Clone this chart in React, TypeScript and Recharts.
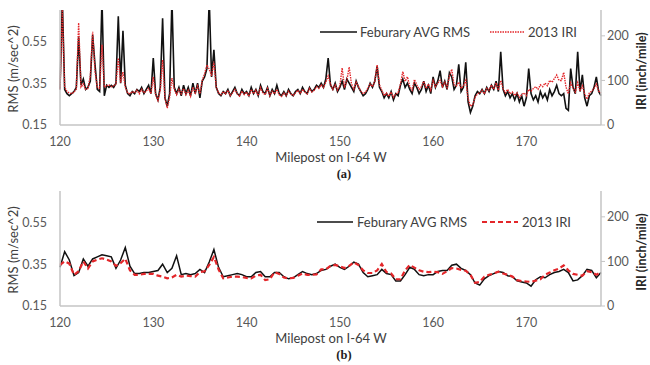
import { LineChart, Line, XAxis, YAxis } from 'recharts';

// (a) raw profile, one reading every 0.25 mile from 120 to 178
const topRms = [
  0.32, 0.75, 0.32, 0.30, 0.29, 0.30, 0.31, 0.33, 0.57, 0.34, 0.37, 0.32,
  0.33, 0.36, 0.58, 0.44, 0.32, 0.31, 0.75, 0.29, 0.34, 0.33, 0.34, 0.33,
  0.35, 0.67, 0.35, 0.60, 0.34, 0.30, 0.29, 0.31, 0.30, 0.32, 0.31, 0.33,
  0.30, 0.32, 0.34, 0.30, 0.47, 0.30, 0.27, 0.33, 0.66, 0.28, 0.24, 0.30,
  0.75, 0.33, 0.30, 0.33, 0.29, 0.34, 0.30, 0.33, 0.29, 0.35, 0.30, 0.35,
  0.28, 0.36, 0.38, 0.42, 0.75, 0.38, 0.51, 0.33, 0.30, 0.29, 0.31, 0.30,
  0.32, 0.29, 0.31, 0.33, 0.30, 0.29, 0.32, 0.30, 0.31, 0.29, 0.33, 0.30,
  0.32, 0.29, 0.34, 0.31, 0.30, 0.33, 0.29, 0.32, 0.30, 0.34, 0.30, 0.29,
  0.31, 0.29, 0.32, 0.30, 0.29, 0.31, 0.32, 0.30, 0.33, 0.31, 0.30, 0.33,
  0.31, 0.32, 0.34, 0.33, 0.35, 0.33, 0.37, 0.47, 0.34, 0.32, 0.35, 0.31,
  0.33, 0.36, 0.32, 0.37, 0.35, 0.33, 0.31, 0.36, 0.33, 0.31, 0.29, 0.30,
  0.32, 0.35, 0.33, 0.36, 0.43, 0.33, 0.31, 0.28, 0.30, 0.28, 0.31, 0.27,
  0.30, 0.29, 0.34, 0.37, 0.33, 0.35, 0.32, 0.30, 0.35, 0.33, 0.30, 0.32,
  0.36, 0.31, 0.34, 0.30, 0.38, 0.33, 0.36, 0.41, 0.33, 0.36, 0.32, 0.40,
  0.38, 0.32, 0.34, 0.44, 0.31, 0.33, 0.45, 0.26, 0.21, 0.24, 0.29, 0.31,
  0.30, 0.32, 0.30, 0.33, 0.31, 0.34, 0.32, 0.36, 0.31, 0.50, 0.32, 0.29,
  0.31, 0.28, 0.30, 0.27, 0.30, 0.26, 0.29, 0.24, 0.28, 0.42, 0.30, 0.27,
  0.29, 0.26, 0.31, 0.28, 0.30, 0.27, 0.32, 0.29, 0.31, 0.34, 0.30, 0.29,
  0.30, 0.23, 0.22, 0.42, 0.33, 0.30, 0.50, 0.31, 0.39, 0.28, 0.24, 0.29,
  0.30, 0.33, 0.38, 0.31, 0.29,
];

const topIri = [
  80, 258, 85, 75, 72, 70, 74, 80, 229, 85, 92, 80,
  82, 110, 209, 120, 85, 82, 180, 85, 88, 90, 86, 88,
  92, 150, 95, 119, 85, 72, 70, 75, 72, 78, 70, 80,
  72, 76, 82, 70, 108, 68, 55, 78, 146, 60, 38, 62,
  105, 80, 68, 80, 70, 82, 68, 78, 64, 85, 72, 88,
  70, 100, 115, 135, 125, 110, 142, 85, 72, 68, 75, 70,
  78, 66, 72, 80, 70, 65, 76, 68, 74, 64, 80, 70,
  78, 66, 84, 72, 68, 82, 66, 76, 70, 80, 68, 64,
  72, 66, 76, 70, 66, 72, 78, 70, 80, 74, 70, 82,
  74, 78, 86, 82, 90, 84, 96, 110, 92, 80, 90, 78,
  88, 128, 84, 100, 130, 92, 80, 96, 86, 76, 70, 74,
  82, 92, 86, 98, 135, 90, 78, 66, 72, 64, 74, 62,
  70, 72, 92, 120, 98, 108, 86, 78, 102, 90, 80, 86,
  98, 82, 92, 78, 100, 86, 94, 100, 86, 96, 84, 110,
  125, 90, 88, 96, 82, 88, 100, 60, 42, 45, 62, 70,
  72, 78, 70, 82, 78, 90, 80, 95, 78, 100, 82, 72,
  80, 70, 74, 66, 72, 62, 68, 72, 66, 80, 76, 82,
  86, 80, 90, 86, 94, 88, 100, 96, 104, 112, 100, 100,
  118, 85, 70, 95, 82, 74, 95, 76, 88, 70, 58, 72,
  76, 82, 92, 76, 72,
];

// (b) averaged profile, one reading every 0.5 mile from 120 to 178
const bottomRms = [
  0.335, 0.41, 0.37, 0.295, 0.31, 0.375, 0.34, 0.375, 0.385, 0.395,
  0.39, 0.385, 0.33, 0.37, 0.43, 0.34, 0.305, 0.305, 0.31, 0.31,
  0.315, 0.32, 0.35, 0.31, 0.33, 0.39, 0.30, 0.305, 0.30, 0.305,
  0.325, 0.31, 0.36, 0.42, 0.335, 0.29, 0.295, 0.30, 0.305, 0.30,
  0.29, 0.29, 0.31, 0.315, 0.29, 0.29, 0.31, 0.31, 0.29, 0.28,
  0.285, 0.30, 0.315, 0.305, 0.30, 0.305, 0.32, 0.325, 0.34, 0.35,
  0.335, 0.325, 0.34, 0.36, 0.35, 0.31, 0.29, 0.295, 0.30, 0.325,
  0.305, 0.30, 0.27, 0.27, 0.30, 0.335, 0.325, 0.30, 0.295, 0.30,
  0.30, 0.315, 0.32, 0.32, 0.345, 0.35, 0.33, 0.32, 0.30, 0.26,
  0.25, 0.28, 0.295, 0.305, 0.315, 0.31, 0.295, 0.29, 0.27, 0.265,
  0.26, 0.245, 0.275, 0.29, 0.285, 0.30, 0.31, 0.315, 0.325, 0.31,
  0.27, 0.275, 0.295, 0.325, 0.32, 0.285, 0.31,
];

const bottomIri = [
  92, 100, 95, 70, 78, 100, 84, 100, 104, 107,
  104, 100, 90, 96, 106, 80, 70, 70, 72, 72,
  72, 68, 66, 62, 64, 70, 66, 68, 67, 66,
  76, 78, 92, 110, 82, 62, 64, 66, 66, 65,
  63, 62, 68, 70, 58, 60, 76, 72, 64, 62,
  63, 68, 73, 70, 70, 71, 82, 82, 90, 92,
  89, 85, 90, 98, 92, 80, 74, 74, 80, 94,
  76, 73, 60, 60, 80, 92, 86, 80, 77, 76,
  77, 76, 72, 78, 85, 84, 81, 79, 70, 52,
  54, 66, 70, 73, 77, 73, 70, 66, 58, 56,
  55, 54, 57, 60, 70, 75, 80, 84, 91, 80,
  72, 70, 68, 78, 76, 70, 76,
];

const mileTicks = [120, 130, 140, 150, 160, 170];
const rmsTicks = [0.15, 0.35, 0.55];
const iriTicks = [0, 100, 200];

const FONT = 'Lato, "Open Sans", sans-serif';
const RED = '#e3262a';
const AXIS = '#c4c4c4';

function rows(rms: number[], iri: number[], step: number) {
  return rms.map((v, i) => ({ mile: 120 + i * step, rms: v, iri: iri[i] }));
}

function Text({ x, y, children, rotate, style }: any) {
  return (
    <div
      style={{
        position: 'absolute',
        left: x,
        top: y,
        transform: `translate(-50%, -50%)${rotate ? ' rotate(-90deg)' : ''}`,
        whiteSpace: 'nowrap',
        ...style,
      }}
    >
      {children}
    </div>
  );
}

function LegendKey({ x, y, w, dash, color, width }: any) {
  return (
    <svg style={{ position: 'absolute', left: x, top: y - 3 }} width={w} height={6}>
      <line x1={0} y1={3} x2={w} y2={3} stroke={color} strokeWidth={width} strokeDasharray={dash} />
    </svg>
  );
}

function Panel({ top, data, dash, redWidth, blackWidth, legendY, legend, tag }: any) {
  const tickStyle = { fill: '#595959', fontSize: 12.5, fontFamily: FONT };
  return (
    <div style={{ position: 'absolute', left: 0, top, width: 650, height: 180 }}>
      <LineChart width={650} height={155} data={data} margin={{ top: 10, right: 9, bottom: 0, left: 10 }}>
        <XAxis
          dataKey="mile"
          type="number"
          domain={[120, 178]}
          ticks={mileTicks}
          interval={0}
          height={30}
          tickLine={false}
          tickSize={6}
          tickMargin={6}
          axisLine={{ stroke: AXIS, strokeWidth: 1.5 }}
          tick={tickStyle}
        />
        <YAxis
          yAxisId="rms"
          domain={[0.15, 0.7]}
          ticks={rmsTicks}
          interval={0}
          allowDataOverflow
          width={50}
          tickLine={false}
          tickSize={6}
          tickMargin={7}
          tickFormatter={(v: number) => v.toFixed(2)}
          axisLine={{ stroke: AXIS, strokeWidth: 1.5 }}
          tick={tickStyle}
        />
        <YAxis
          yAxisId="iri"
          orientation="right"
          domain={[0, 258]}
          ticks={iriTicks}
          interval={0}
          allowDataOverflow
          width={40}
          tickSize={4}
          tickMargin={2}
          tickLine={{ stroke: AXIS }}
          axisLine={{ stroke: AXIS, strokeWidth: 1.5 }}
          tick={tickStyle}
        />
        <Line yAxisId="rms" dataKey="rms" type="linear" stroke="#111" strokeWidth={blackWidth} dot={false} isAnimationActive={false} />
        <Line yAxisId="iri" dataKey="iri" type="linear" stroke={RED} strokeWidth={redWidth} strokeDasharray={dash} dot={false} isAnimationActive={false} />
      </LineChart>

      <LegendKey x={legend[0]} y={legendY} w={legend[1]} color="#111" width={1.5} />
      <Text x={legend[2]} y={legendY} style={{ transform: 'translate(0, -50%)', fontSize: 13, color: '#404040', fontFamily: FONT }}>
        Feburary AVG RMS
      </Text>
      <LegendKey x={legend[3]} y={legendY} w={legend[4]} dash={dash} color={RED} width={redWidth} />
      <Text x={legend[5]} y={legendY} style={{ transform: 'translate(0, -50%)', fontSize: 13, color: '#404040', fontFamily: FONT }}>
        2013 IRI
      </Text>

      <Text x={13} y={69} rotate style={{ fontSize: 13, color: '#404040', fontFamily: FONT }}>
        RMS (m/sec^2)
      </Text>
      <Text x={641} y={71} rotate style={{ fontSize: 12.5, fontWeight: 'bold', color: '#262626', fontFamily: FONT }}>
        IRI (inch/mile)
      </Text>
      <Text x={331} y={157} style={{ fontSize: 13, color: '#404040', fontFamily: FONT }}>
        Milepost on I-64 W
      </Text>
      <Text x={344} y={174} style={{ fontSize: 12.5, fontWeight: 'bold', color: '#222', fontFamily: '"Liberation Serif", serif' }}>
        {tag}
      </Text>
    </div>
  );
}

export default function App() {
  const topData = rows(topRms, topIri, 0.25);
  const bottomData = rows(bottomRms, bottomIri, 0.5);
  return (
    <div style={{ position: 'absolute', left: 0, top: 0, width: 650, height: 365, background: '#fff', overflow: 'hidden' }}>
      <Panel top={0} data={topData} dash="1.5 1" redWidth={1.4} blackWidth={1.6} legendY={31.5} legend={[320, 37, 360, 490, 35, 528]} tag="(a)" />
      <Panel top={181} data={bottomData} dash="5 3" redWidth={2.2} blackWidth={1.5} legendY={41} legend={[317, 36, 357, 482, 36, 522]} tag="(b)" />
    </div>
  );
}
